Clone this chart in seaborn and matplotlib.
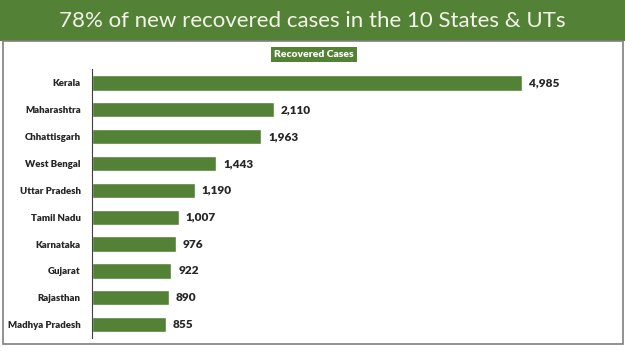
import numpy as np
import pandas as pd
import matplotlib.pyplot as plt
import seaborn as sns
from matplotlib.patches import Rectangle

states = ['Kerala', 'Maharashtra', 'Chhattisgarh', 'West Bengal', 'Uttar Pradesh',
          'Tamil Nadu', 'Karnataka', 'Gujarat', 'Rajasthan', 'Madhya Pradesh']
recovered = [4985, 2110, 1963, 1443, 1190, 1007, 976, 922, 890, 855]

green = '#538135'
df = pd.DataFrame({'State': states, 'Recovered Cases': recovered})

sns.set_style('white')
plt.rcParams['font.family'] = ['Lato', 'DejaVu Sans']

fig = plt.figure(figsize=(6.25, 3.51), dpi=100)

# title banner + panel border (behind the axes)
fig.patches.append(Rectangle((0, 0.883), 1, 0.117, transform=fig.transFigure,
                             facecolor=green, edgecolor='none', zorder=-2))
fig.patches.append(Rectangle((0.004, 0.02), 0.992, 0.863, transform=fig.transFigure,
                             facecolor='white', edgecolor='#7f7f7f', lw=1.2, zorder=-2))
fig.text(0.5, 0.94, '78% of new recovered cases in the 10 States & UTs',
         ha='center', va='center', fontsize=16, color='#f4f4ea')
fig.text(0.502, 0.845, 'Recovered Cases', ha='center', va='center', fontsize=7.5,
         fontweight='heavy', color='white',
         bbox=dict(boxstyle='square,pad=0.3', facecolor=green, edgecolor='none'))

ax = fig.add_axes([0.147, 0.037, 0.79, 0.765])
sns.barplot(data=df, y='State', x='Recovered Cases', orient='h', color=green,
            width=0.57, saturation=1, ax=ax)
ax.set_xlim(0, 5720)
ax.set_ylim(len(states) - 0.5, -0.5)
ax.set_xlabel('')
ax.set_ylabel('')
ax.set_xticks([])
for s in ['top', 'right', 'bottom']:
    ax.spines[s].set_visible(False)
ax.spines['left'].set_color('#404040')
ax.spines['left'].set_linewidth(0.8)
ax.set_yticks(np.arange(-0.5, len(states), 1), minor=True)
ax.tick_params(axis='y', which='major', length=0, pad=8)
ax.tick_params(axis='y', which='minor', length=3, color='#404040', direction='out')
for lab in ax.get_yticklabels():
    lab.set_fontsize(6.9)
    lab.set_fontweight('heavy')
for i, v in enumerate(recovered):
    ax.text(v + 80, i, f'{v:,}', va='center', ha='left', fontsize=8.5, fontweight='heavy')
ax.patch.set_alpha(0)

fig.savefig('out.png', dpi=100)
